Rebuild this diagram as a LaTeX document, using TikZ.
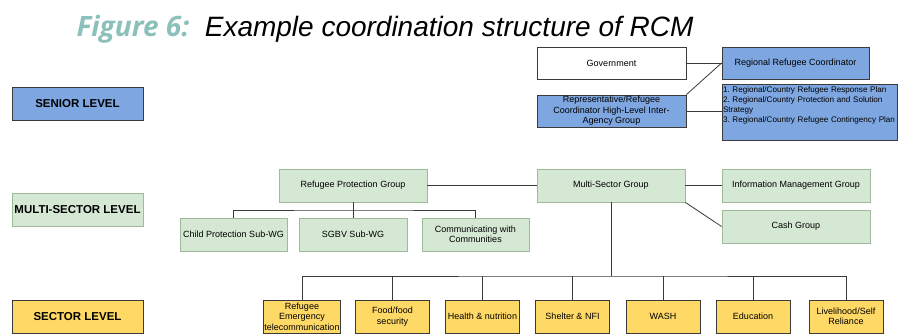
\documentclass[tikz,border=0pt]{standalone}
\usepackage{fontspec}
\setmainfont{Liberation Sans}
\newfontfamily\figfont{Open Sans}
\usepackage{tikz}
\usetikzlibrary{calc}
\usepackage{xcolor}
\definecolor{seniorblue}{HTML}{7EA6E0}
\definecolor{multigreen}{HTML}{D5E8D4}
\definecolor{multiline}{HTML}{9DBB9A}
\definecolor{sectoryellow}{HTML}{FFD966}
\definecolor{figteal}{HTML}{8CC0BB}
\definecolor{linkgray}{HTML}{3A3A3A}

\tikzset{
  box/.style={draw=linkgray,line width=0.8pt,font=\fontsize{9}{10.5}\selectfont,align=center,inner sep=1pt},
  levelbox/.style={box,minimum width=131pt,minimum height=33pt,font=\fontsize{11.5}{13}\selectfont\bfseries},
  bluebox/.style={box,fill=seniorblue},
  greenbox/.style={box,fill=multigreen,draw=multiline},
  yellowbox/.style={box,fill=sectoryellow},
  link/.style={draw=linkgray,line width=0.8pt}
}

\begin{document}
\frenchspacing
\begin{tikzpicture}[x=1pt,y=-1pt]

\useasboundingbox (0,0) rectangle (898,334);

\node (title) at (385,29) {\fontsize{28}{30}\selectfont{\figfont\bfseries\itshape\color{figteal}Figure 6:}\ \ \itshape Example coordination structure of RCM};

\node[levelbox,fill=seniorblue] (senior) at (77.5,103.5) {SENIOR LEVEL};

\node[levelbox,fill=multigreen,draw=multiline] (multi) at (77.5,209.5) {MULTI-SECTOR LEVEL};

\node[levelbox,fill=sectoryellow] (sector) at (77.5,317) {SECTOR LEVEL};

\node[box,fill=white,minimum width=149pt,minimum height=32pt] (gov) at (611.5,63) {Government};

\node[bluebox,minimum width=147pt,minimum height=32pt] (rrc) at (795.5,63) {Regional Refugee Coordinator};

\node[bluebox,minimum width=149pt,minimum height=32pt] (rep) at (611.5,111) {Representative/Refugee\\Coordinator High-Level Inter-\\Agency Group};

\node[bluebox,minimum width=175pt,minimum height=56pt,align=left,text width=173pt,text height=8pt,text depth=46pt,font=\fontsize{8.1}{10}\selectfont] (plans) at (809.5,112) {1. Regional/Country Refugee Response Plan\\2. Regional/Country Protection and Solution\\Strategy\\3. Regional/Country Refugee Contingency Plan};

\node[greenbox,minimum width=148pt,minimum height=33pt] (rpg) at (353,185.5) {Refugee Protection Group};

\node[greenbox,minimum width=148pt,minimum height=33pt] (msg) at (611,185.5) {Multi-Sector Group};

\node[greenbox,minimum width=148pt,minimum height=33pt] (img) at (796,185.5) {Information Management Group};

\node[greenbox,minimum width=148pt,minimum height=33pt] (cash) at (796,226.5) {Cash Group};

\node[greenbox,minimum width=107pt,minimum height=33pt] (child) at (233.5,234.5) {Child Protection Sub-WG};

\node[greenbox,minimum width=108pt,minimum height=33pt] (sgbv) at (353,234.5) {SGBV Sub-WG};

\node[greenbox,minimum width=107pt,minimum height=33pt] (comm) at (475.5,234.5) {Communicating with\\Communities};

\node[yellowbox,minimum width=74pt,minimum height=33pt] (telecom) at (302,316.5) {Refugee\\Emergency\\telecommunication};

\node[yellowbox,minimum width=74pt,minimum height=33pt] (food) at (392.5,316.5) {Food/food\\security};

\node[yellowbox,minimum width=74pt,minimum height=33pt] (health) at (482.5,316.5) {Health \& nutrition};

\node[yellowbox,minimum width=74pt,minimum height=33pt] (shelter) at (572.5,316.5) {Shelter \& NFI};

\node[yellowbox,minimum width=74pt,minimum height=33pt] (wash) at (663,316.5) {WASH};

\node[yellowbox,minimum width=74pt,minimum height=33pt] (edu) at (753,316.5) {Education};

\node[yellowbox,minimum width=74pt,minimum height=33pt] (live) at (846,316.5) {Livelihood/Self\\Reliance};

\draw[link] (gov.east) -- (rrc.west);
\draw[link] (rep.north east) -- (rrc.west);
\draw[link] (rep.east) -- (rep.east -| plans.west);

\draw[link] (rpg.east) -- (msg.west);
\draw[link] (msg.east) -- (img.west);
\draw[link] (msg.south east) -- (cash.west);

\coordinate (pbus) at (353,210);
\draw[link] (rpg.south) -- (sgbv.north);
\draw[link] (child.north) |- (pbus) -| (comm.north);

\coordinate (sbus) at (611,276);
\draw[link] (msg.south) -- (sbus);
\draw[link] (telecom.north) |- (sbus) -| (live.north);
\foreach \n in {food,health,shelter,wash,edu}
  \draw[link] (\n.north) -- (\n.north |- sbus);

\end{tikzpicture}
\end{document}
